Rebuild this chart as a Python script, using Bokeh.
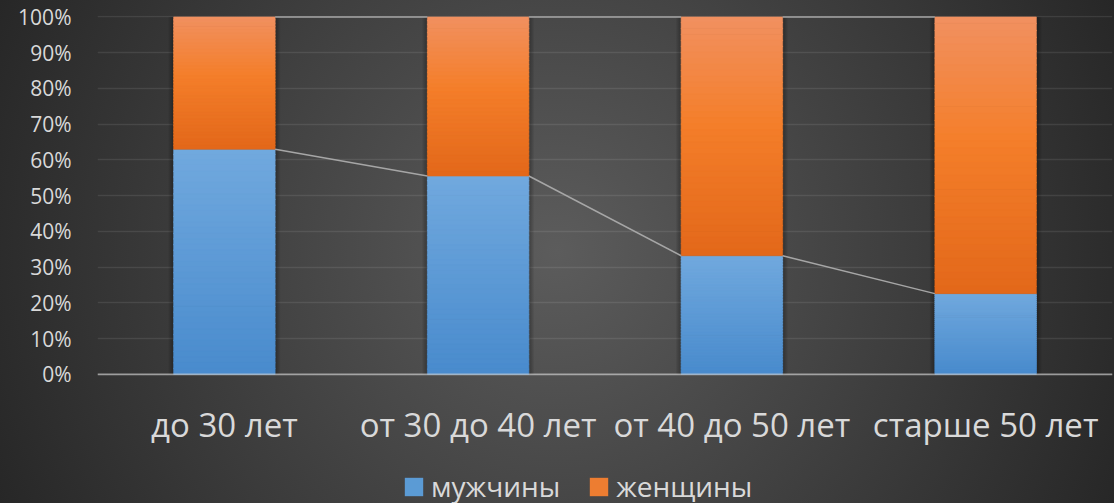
from bokeh.plotting import figure
from bokeh.layouts import column
from bokeh.models import (FactorRange, Range1d, FixedTicker, NumeralTickFormatter,
                          Legend, LegendItem, Span, ColumnDataSource)
from bokeh.transform import dodge
from bokeh.embed import file_html
from bokeh.resources import INLINE

# ---------------- data ----------------
categories = ["до 30 лет", "от 30 до 40 лет", "от 40 до 50 лет", "старше 50 лет"]
men = [0.63, 0.555, 0.332, 0.226]
women = [0.37, 0.445, 0.668, 0.774]
series_names = ["мужчины", "женщины"]
y_ticks = [0.0, 0.1, 0.2, 0.3, 0.4, 0.5, 0.6, 0.7, 0.8, 0.9, 1.0]

# ---------------- style helpers ----------------
BLUE_STOPS = [(0.0, (0x71, 0xA9, 0xDE)), (1.0, (0x49, 0x8B, 0xCD))]
ORANGE_STOPS = [(0.0, (0xF1, 0x91, 0x61)), (0.45, (0xF4, 0x7E, 0x2A)), (1.0, (0xE3, 0x68, 0x1A))]
TEXT = "#d9d9d9"
FONT = "Open Sans"
BAR_W = 0.4


def interp(stops, t):
    for (p0, c0), (p1, c1) in zip(stops[:-1], stops[1:]):
        if t <= p1:
            f = (t - p0) / (p1 - p0)
            return "#%02x%02x%02x" % tuple(int(round(a + (b - a) * f)) for a, b in zip(c0, c1))
    return "#%02x%02x%02x" % stops[-1][1]


N = 40
band = dict(x=[], bottom=[], top=[], color=[])
for cat, m, w in zip(categories, men, women):
    for seg_bottom, seg_top, stops in ((0.0, m, BLUE_STOPS), (m, m + w, ORANGE_STOPS)):
        h = (seg_top - seg_bottom) / N
        for k in range(N):
            top = seg_top - k * h
            bot = seg_top - (k + 1) * h
            if k > 0:
                top = min(seg_top, top + 0.002)
            band["x"].append(cat)
            band["bottom"].append(bot)
            band["top"].append(top)
            band["color"].append(interp(stops, (k + 0.5) / N))

p = figure(width=1114, height=450, x_range=FactorRange(factors=categories),
           y_range=Range1d(-0.003, 1.004), output_backend="svg", toolbar_location=None,
           min_border_left=97, min_border_right=2, min_border_top=15, min_border_bottom=75)
p.background_fill_color = None
p.border_fill_color = None
p.outline_line_color = None

# grid
p.xgrid.grid_line_color = None
p.ygrid.ticker = FixedTicker(ticks=y_ticks)
p.ygrid.grid_line_color = "#ffffff"
p.ygrid.grid_line_alpha = 0.09
p.ygrid.grid_line_width = 1.5

# shadows
totals = [m + w for m, w in zip(men, women)]
for k in range(1, 6):
    p.vbar(x=categories, bottom=0, top=totals, width=BAR_W + 0.008 * k,
           fill_color="black", fill_alpha=0.06, line_color=None)

# bars (gradient bands)
p.vbar(x="x", bottom="bottom", top="top", width=BAR_W, fill_color="color",
       line_color="color", line_width=0.6, source=ColumnDataSource(band))

# series lines
lines = ColumnDataSource(dict(x0=categories[:-1] * 2, x1=categories[1:] * 2,
                              y0=men[:-1] + totals[:-1], y1=men[1:] + totals[1:]))
p.segment(x0=dodge("x0", BAR_W / 2, range=p.x_range), y0="y0",
          x1=dodge("x1", -BAR_W / 2, range=p.x_range), y1="y1",
          line_color="#a6a6a6", line_width=1.5, source=lines)

# zero line
p.add_layout(Span(location=0, dimension="width", line_color="#d9d9d9",
                  line_alpha=0.6, line_width=2))

# axes
p.yaxis.ticker = FixedTicker(ticks=y_ticks)
p.yaxis.formatter = NumeralTickFormatter(format="0%")
p.yaxis.axis_line_color = None
p.yaxis.major_tick_line_color = None
p.yaxis.minor_tick_line_color = None
p.yaxis.major_label_text_font = FONT
p.yaxis.major_label_text_font_size = "21px"
p.yaxis.major_label_text_color = TEXT
p.yaxis.major_label_standoff = 20

p.xaxis.axis_line_color = None
p.xaxis.major_tick_line_color = None
p.xaxis.major_label_text_font = FONT
p.xaxis.major_label_text_font_size = "33px"
p.xaxis.major_label_text_color = TEXT
p.xaxis.major_label_standoff = 20

# legend strip
p2 = figure(width=1114, height=53, x_range=Range1d(0, 1), y_range=Range1d(0, 1),
            output_backend="svg", toolbar_location=None, min_border=0)
p2.axis.visible = False
p2.grid.visible = False
p2.background_fill_color = None
p2.border_fill_color = None
p2.outline_line_color = None
# legend swatches (kept outside the visible range)
r_m = p2.vbar(x=[-5], bottom=[-6], top=[-5], width=1, fill_color="#5b9bd5", line_color=None)
r_w = p2.vbar(x=[-5], bottom=[-6], top=[-5], width=1, fill_color="#ed7d31", line_color=None)
legend = Legend(items=[LegendItem(label=series_names[0], renderers=[r_m]),
                       LegendItem(label=series_names[1], renderers=[r_w])],
                orientation="horizontal", location=(305, -2),
                glyph_width=23, glyph_height=23, label_standoff=6, spacing=27,
                padding=0, margin=0, border_line_color=None, background_fill_alpha=0,
                label_text_font=FONT, label_text_font_size="28px", label_text_color=TEXT)
p2.add_layout(legend, "center")

layout = column(p, p2, spacing=0,
                styles={"background": "radial-gradient(circle farthest-corner at 50% 50%, #5c5c5c 0%, #272727 100%)"})

open("out.html", "w").write(file_html(layout, INLINE))
